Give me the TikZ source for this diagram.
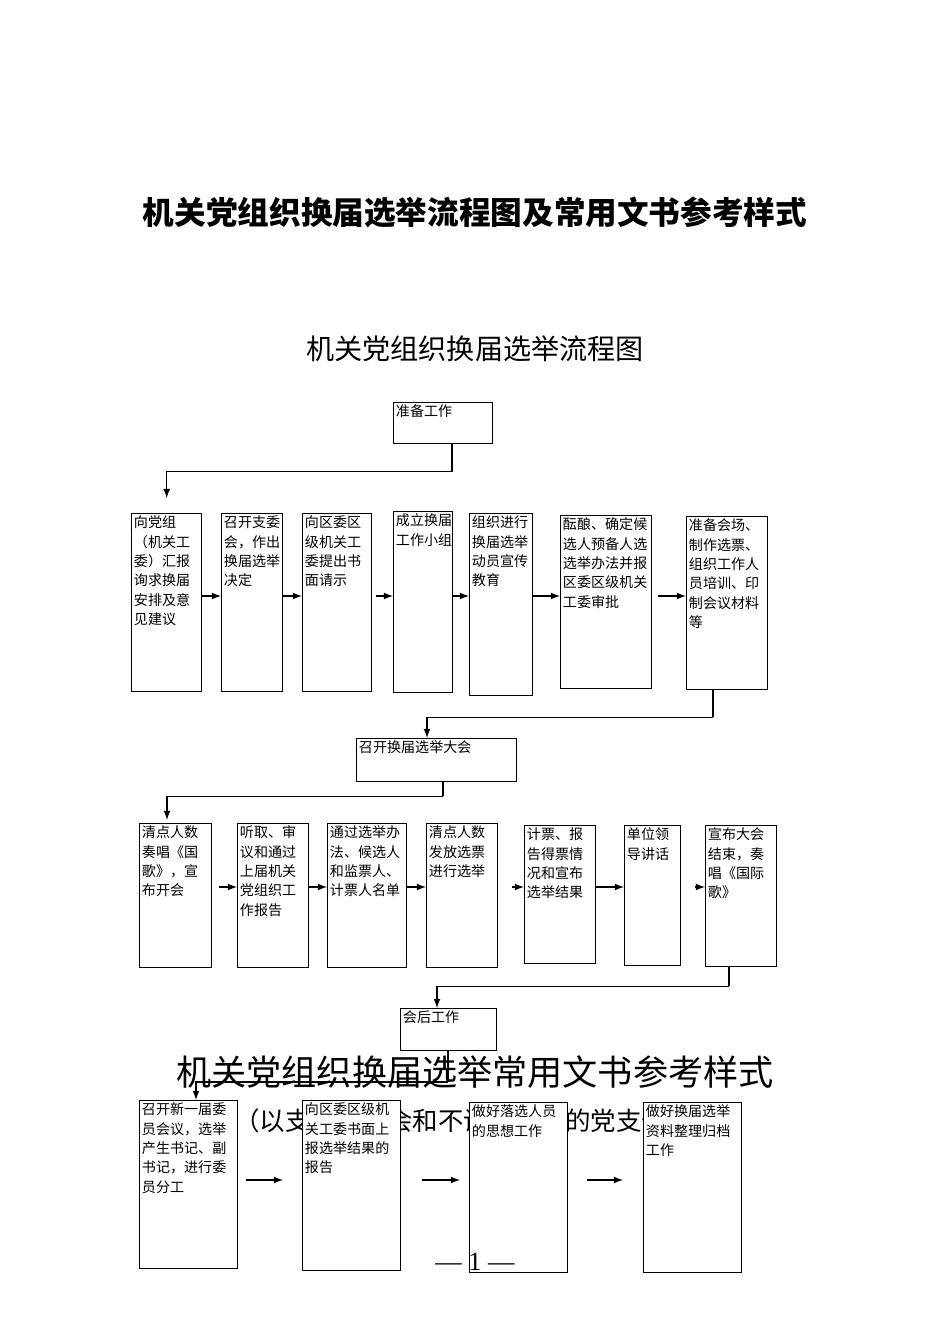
\documentclass[tikz,border=0pt]{standalone}
\usepackage{fontspec}
\setmainfont{Liberation Serif}
\newfontfamily\cjk{Noto Sans CJK SC}
\usetikzlibrary{positioning}
\tikzset{%
  arr/.style = {-latex,thick},
  ln/.style = {thick},
  box/.style = {rectangle,draw,thick,fill=white,anchor=north west,inner sep=0pt},
  txt/.style = {anchor=north west,inner sep=1.5pt,align=left,
        font=\cjk\fontsize{8}{11}\selectfont}
}

\begin{document}
\begin{tikzpicture}[x=0.02cm,y=-0.02cm]
\useasboundingbox (0,0) rectangle (950,1344);
% titles
\node[font=\cjk\bfseries\fontsize{18}{20}\selectfont] (title) at (475,212) {机关党组织换届选举流程图及常用文书参考样式};
\node[font=\cjk\fontsize{16}{18}\selectfont] (sub) at (475,349) {机关党组织换届选举流程图};
\node[font=\cjk\fontsize{20}{22}\selectfont] (title2) at (475,1072) {机关党组织换届选举常用文书参考样式};
\node[font=\cjk\fontsize{14.5}{16}\selectfont,anchor=west] (sub2) at (228,1121) {（以支部委员会和不设委员会的党支部};

% stage 1
\node[box,minimum width=1.98cm,minimum height=0.82cm] (prep) at (393,402) {};
\node[txt] at (prep.north west) {准备工作};
\node[box,minimum width=1.4cm,minimum height=3.56cm] (b1) at (131,513) {};
\node[txt] at (b1.north west) {向\hfill 党\hfill 组\\（机关工\\委）汇报\\询求换届\\安排及意\\见建议};
\node[box,minimum width=1.22cm,minimum height=3.56cm] (b2) at (221,513) {};
\node[txt] at (b2.north west) {召开支委\\会，作出\\换届选举\\决定};
\node[box,minimum width=1.38cm,minimum height=3.56cm] (b3) at (302,513) {};
\node[txt] at (b3.north west) {向区委区\\级机关工\\委提出书\\面请示};
\node[box,minimum width=1.18cm,minimum height=3.62cm] (b4) at (393,511) {};
\node[txt] at (b4.north west) {成立换届\\工作小组};
\node[box,minimum width=1.26cm,minimum height=3.64cm] (b5) at (469,513) {};
\node[txt] at (b5.north west) {组织进行\\换届选举\\动员宣传\\教育};
\node[box,minimum width=1.82cm,minimum height=3.46cm] (b6) at (560,515) {};
\node[txt] at (b6.north west) {酝酿、确定候\\选人预备人选\\选举办法并报\\区委区级机关\\工委审批};
\node[box,minimum width=1.62cm,minimum height=3.46cm] (b7) at (686,516) {};
\node[txt] at (b7.north west) {准备会场、\\制作选票、\\组织工作人\\员培训、印\\制会议材料\\等};

\coordinate (m1) at (0,596);
\draw[arr] ([xshift=5]prep.south) -- ++(0,27) -| ([yshift=0.3cm]b1.north);
\draw[arr] (b1.east |- m1) -- (b2.west |- m1);
\draw[arr] (b2.east |- m1) -- (b3.west |- m1);
\draw[arr] ([xshift=2]b3.east |- m1) -- (b4.west |- m1);
\draw[arr] (b4.east |- m1) -- (b5.west |- m1);
\draw[arr] (b5.east |- m1) -- (b6.west |- m1);
\draw[arr] ([xshift=3]b6.east |- m1) -- (b7.west |- m1);

% stage 2
\node[box,minimum width=3.2cm,minimum height=0.86cm] (meet) at (356,738) {};
\node[txt] at (meet.north west) {召开换届选举大会};
\draw[ln] ([xshift=-8]b7.south) -- ++(0,27) coordinate (k1);
\draw[arr] (k1) -| (meet.north -| 427,0);

\node[box,minimum width=1.44cm,minimum height=2.88cm] (c1) at (139,823) {};
\node[txt] at (c1.north west) {清点人数\\奏唱《国\\歌》，宣\\布开会};
\node[box,minimum width=1.42cm,minimum height=2.88cm] (c2) at (237,823) {};
\node[txt] at (c2.north west) {听取、审\\议和通过\\上届机关\\党组织工\\作报告};
\node[box,minimum width=1.58cm,minimum height=2.88cm] (c3) at (327,823) {};
\node[txt] at (c3.north west) {通过选举办\\法、候选人\\和监票人、\\计票人名单};
\node[box,minimum width=1.42cm,minimum height=2.88cm] (c4) at (426,823) {};
\node[txt] at (c4.north west) {清点人数\\发放选票\\进行选举};
\node[box,minimum width=1.42cm,minimum height=2.76cm] (c5) at (524,825) {};
\node[txt] at (c5.north west) {计票、报\\告得票情\\况和宣布\\选举结果};
\node[box,minimum width=1.12cm,minimum height=2.8cm] (c6) at (624,825) {};
\node[txt] at (c6.north west) {单位领\\导讲话};
\node[box,minimum width=1.42cm,minimum height=2.82cm] (c7) at (705,825) {};
\node[txt] at (c7.north west) {宣布大会\\结束，奏\\唱《国际\\歌》};

\coordinate (m2) at (0,887);
\draw[ln] (meet.south -| 443,0) -- ++(0,14) coordinate (k2);
\draw[arr] (k2) -| ([yshift=0.06cm]c1.north -| 167,0);
\draw[arr] ([xshift=4]c1.east |- m2) -- (c2.west |- m2);
\draw[arr] (c2.east |- m2) -- (c3.west |- m2);
\draw[arr] (c3.east |- m2) -- (c4.west |- m2);
\draw[arr] ([xshift=8]c4.east |- m2) -- (c5.west |- m2);
\draw[arr] (c5.east |- m2) -- (c6.west |- m2);
\draw[arr] ([xshift=8]c6.east |- m2) -- (c7.west |- m2);

% stage 3
\node[box,minimum width=1.92cm,minimum height=0.84cm] (after) at (400,1008) {};
\node[txt] at (after.north west) {会后工作};
\draw[ln] (c7.south -| 729,0) -- ++(0,19) coordinate (k3);
\draw[arr] (k3) -| (after.north -| 437,0);

\node[box,minimum width=1.96cm,minimum height=3.36cm] (d1) at (139,1100) {};
\node[txt] at (d1.north west) {召开新一届委\\员会议，选举\\产生书记、副\\书记，进行委\\员分工};
\node[box,minimum width=1.96cm,minimum height=3.4cm] (d2) at (302,1100) {};
\node[txt] at (d2.north west) {向区委区级机\\关工委书面上\\报选举结果的\\报告};
\node[box,minimum width=1.96cm,minimum height=3.4cm] (d3) at (469,1102) {};
\node[txt] at (d3.north west) {做好落选人员\\的思想工作};
\node[box,minimum width=1.96cm,minimum height=3.4cm] (d4) at (643,1102) {};
\node[txt] at (d4.north west) {做好换届选举\\资料整理归档\\工作};

\coordinate (m3) at (0,1180);
\draw[ln] (after.south -| 448,0) -- (448,1082) coordinate (k4);
\draw[arr] (k4) -| (d1.north -| 196,0);
\draw[arr,shorten <=0.16cm,shorten >=0.38cm] (d1.east |- m3) -- (d2.west |- m3);
\draw[arr,shorten <=0.42cm,shorten >=0.18cm] (d2.east |- m3) -- (d3.west |- m3);
\draw[arr,shorten <=0.38cm,shorten >=0.4cm] (d3.east |- m3) -- (d4.west |- m3);

\node[font=\fontsize{15}{16}\selectfont] (page) at (475,1262) {— 1 —};
\end{tikzpicture}
\end{document}
